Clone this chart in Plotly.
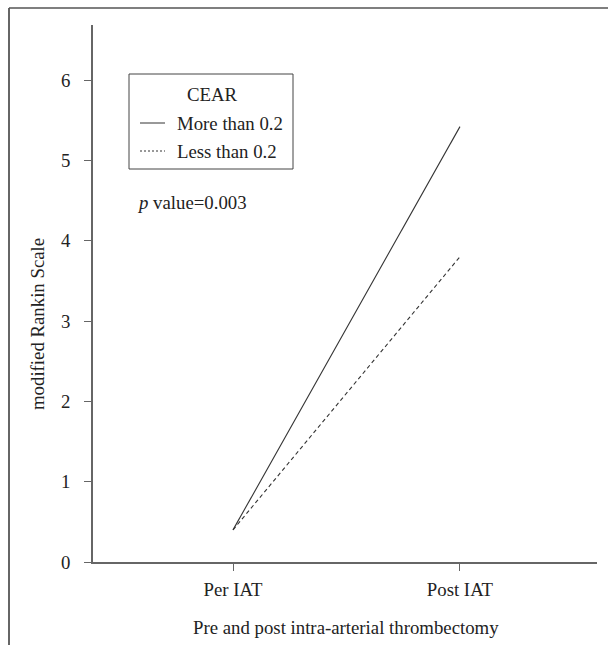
import plotly.graph_objects as go

# Data
categories = ["Per IAT", "Post IAT"]
more_than = [0.4, 5.42]
less_than = [0.4, 3.8]
series_names = ["More than 0.2", "Less than 0.2"]
legend_title = "CEAR"
y_ticks = [0, 1, 2, 3, 4, 5, 6]

W, H = 608, 645
L, R, T, B = 93, 11, 25, 83
pw, ph = W - L - R, H - T - B

def px(xp):
    return (xp - L) / pw

def py(yp):
    return (H - B - yp) / ph

FONT = "Liberation Serif"
TXT = "#222222"
FS = 18.8

fig = go.Figure()
fig.add_trace(go.Scatter(x=categories, y=more_than, mode="lines", name=series_names[0],
                         line=dict(color="#333333", width=1.1, dash="solid"), showlegend=False))
fig.add_trace(go.Scatter(x=categories, y=less_than, mode="lines", name=series_names[1],
                         line=dict(color="#333333", width=1.1, dash="4px,3px"), showlegend=False))

shapes = []
# outer frame (left + top)
shapes.append(dict(type="line", xref="paper", yref="paper", x0=px(9), x1=px(9), y0=py(H + 5), y1=py(8),
                   line=dict(color="#333333", width=1.5)))
shapes.append(dict(type="line", xref="paper", yref="paper", x0=px(9), x1=px(W + 5), y0=py(8), y1=py(8),
                   line=dict(color="#555555", width=1.5)))
# legend box
shapes.append(dict(type="rect", xref="paper", yref="paper", x0=px(129), x1=px(293), y0=py(169), y1=py(74),
                   line=dict(color="#444444", width=1)))
shapes.append(dict(type="line", xref="paper", yref="paper", x0=px(140), x1=px(165), y0=py(123), y1=py(123),
                   line=dict(color="#333333", width=1)))
shapes.append(dict(type="line", xref="paper", yref="paper", x0=px(140), x1=px(165), y0=py(151), y1=py(151),
                   line=dict(color="#333333", width=1, dash="2px,2px")))

annotations = [
    dict(text=legend_title, x=px(212), y=py(94), xref="paper", yref="paper", showarrow=False,
         xanchor="center", yanchor="middle", font=dict(family=FONT, size=FS, color=TXT)),
    dict(text=series_names[0], x=px(175), y=py(123), xref="paper", yref="paper", showarrow=False,
         xanchor="left", yanchor="middle", font=dict(family=FONT, size=FS, color=TXT)),
    dict(text=series_names[1], x=px(175), y=py(151), xref="paper", yref="paper", showarrow=False,
         xanchor="left", yanchor="middle", font=dict(family=FONT, size=FS, color=TXT)),
    dict(text="<i>p</i> value=0.003", x=px(135), y=py(202), xref="paper", yref="paper", showarrow=False,
         xanchor="left", yanchor="middle", font=dict(family=FONT, size=FS, color=TXT)),
    dict(text="modified Rankin Scale", x=px(37), y=py(324), xref="paper", yref="paper", showarrow=False,
         textangle=-90, xanchor="center", yanchor="middle", font=dict(family=FONT, size=FS, color=TXT)),
    dict(text="Pre and post intra-arterial thrombectomy", x=px(346), y=py(627), xref="paper", yref="paper",
         showarrow=False, xanchor="center", yanchor="middle", font=dict(family=FONT, size=FS, color=TXT)),
]

fig.update_layout(
    width=W, height=H,
    margin=dict(l=L, r=R, t=T, b=B, autoexpand=False),
    paper_bgcolor="white", plot_bgcolor="white",
    shapes=shapes, annotations=annotations,
    font=dict(family=FONT, size=FS, color=TXT),
)
fig.update_xaxes(
    type="category", range=[-0.617, 1.604], showgrid=False, zeroline=False,
    showline=True, linecolor="#666666", linewidth=1.5,
    ticks="outside", ticklen=7, tickcolor="#666666", tickwidth=1,
    tickfont=dict(family=FONT, size=FS, color=TXT), ticklabelstandoff=3,
)
fig.update_yaxes(
    range=[0, 6.685], showgrid=False, zeroline=False,
    showline=True, linecolor="#666666", linewidth=1.5,
    tickvals=y_ticks, ticks="outside", ticklen=7, tickcolor="#666666", tickwidth=1,
    tickfont=dict(family=FONT, size=FS, color=TXT), ticklabelstandoff=10,
)

fig.write_html("out.html", config={"displayModeBar": False},
               post_script="document.body.style.margin='0';")
